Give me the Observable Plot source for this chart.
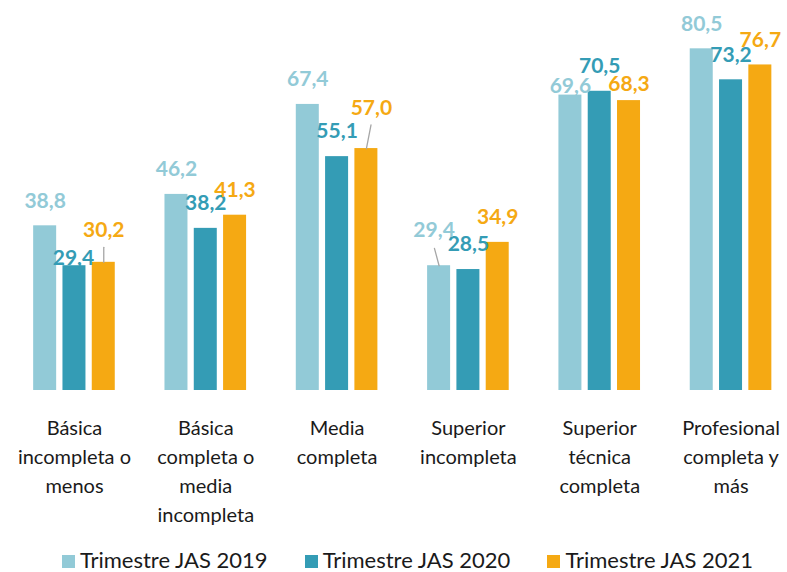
<!DOCTYPE html>
<html>
<head>
<meta charset="utf-8">
<script src="https://cdn.jsdelivr.net/npm/d3@7"></script>
<script src="https://cdn.jsdelivr.net/npm/@observablehq/plot@0.6"></script>
<style>
  html, body { margin: 0; padding: 0; background: #ffffff; }
  body { width: 787px; height: 572px; position: relative; overflow: hidden; font-family: Lato, "Open Sans", sans-serif; }
  #legend { position: absolute; left: 0; top: 549px; width: 787px; height: 22px; line-height: 22px; display: flex; justify-content: center; align-items: center; gap: 37px; padding-left: 28px; box-sizing: border-box; font-size: 22px; color: #1a1a1a; }
  #legend .item { display: flex; align-items: center; gap: 5px; white-space: nowrap; }
  #legend .sw { width: 13px; height: 13px; display: inline-block; margin-top: 2px; }
</style>
</head>
<body>
<div id="chart"></div>
<div id="legend"></div>
<script>
// ---- data ----
const categories = [
  "Básica\nincompleta o\nmenos",
  "Básica\ncompleta o\nmedia\nincompleta",
  "Media\ncompleta",
  "Superior\nincompleta",
  "Superior\ntécnica\ncompleta",
  "Profesional\ncompleta y\nmás"
];
const series = ["Trimestre JAS 2019", "Trimestre JAS 2020", "Trimestre JAS 2021"];
const values2019 = [38.8, 46.2, 67.4, 29.4, 69.6, 80.5];
const values2020 = [29.4, 38.2, 55.1, 28.5, 70.5, 73.2];
const values2021 = [30.2, 41.3, 57.0, 34.9, 68.3, 76.7];
const colors = ["#92CAD7", "#349CB5", "#F5A913"];

// ---- label nudges (pixels): [categoryIndex, seriesIndex, dx, dy] ----
const defaultLabelDy = -25;
const labelNudges = [
  [0, 1, -1, -7],
  [0, 2, 0, -32],
  [2, 2, 5, -40],
  [3, 0, -5, -35],
  [4, 0, 0, -9],
  [4, 2, 0, -16]
];
// leader lines: [categoryIndex, seriesIndex, length px, rotate deg]
const leaders = [
  [0, 2, 15, 0],
  [2, 2, 24, 11],
  [3, 0, 18, -15]
];

const seriesValues = [values2019, values2020, values2021];
const rows = [];
categories.forEach((c, ci) => series.forEach((s, si) => {
  rows.push({category: c, series: s, value: seriesValues[si][ci], ci, si});
}));
const fmt = v => v.toFixed(1).replace(".", ",");

const nudgeKey = (ci, si) => { const n = labelNudges.find(d => d[0] === ci && d[1] === si); return n ? [n[2], n[3]] : [0, defaultLabelDy]; };
const groups = d3.group(rows, d => nudgeKey(d.ci, d.si).join(","));
const labelMarks = [];
for (const [key, grp] of groups) {
  const [dx, dy] = key.split(",").map(Number);
  labelMarks.push(Plot.text(grp, {
    fx: "category", x: "series", y: "value", text: d => fmt(d.value), fill: "series",
    dx, dy, fontSize: 21, fontWeight: "bold"
  }));
}
const leaderMarks = leaders.map(([ci, si, len, rot]) => Plot.vector(rows.filter(d => d.ci === ci && d.si === si), {
  fx: "category", x: "series", y: "value", length: len, rotate: rot, anchor: "start",
  stroke: "#A6A6A6", strokeWidth: 1.3,
  shape: { draw(context, l) { context.moveTo(0, 0); context.lineTo(0, -l); } }
}));

const chart = Plot.plot({
  width: 787, height: 540,
  marginTop: 8, marginBottom: 150, marginLeft: 28, marginRight: 10.5,
  style: { fontFamily: "Lato, 'Open Sans', sans-serif", background: "#ffffff" },
  fx: { domain: categories, paddingInner: 0.3, paddingOuter: 0, round: false, label: null },
  x: { domain: series, paddingInner: 0.215, paddingOuter: 0.176, round: false, axis: null },
  y: { domain: [0, 90], axis: null },
  color: { domain: series, range: colors },
  marks: [
    Plot.barY(rows, { fx: "category", x: "series", y: "value", fill: "series" }),
    ...leaderMarks,
    ...labelMarks,
    Plot.axisFx({ anchor: "bottom", tickSize: 0, tickPadding: 24, fontSize: 20, lineHeight: 1.45, lineAnchor: "top", fill: "#1a1a1a", label: null })
  ]
});
document.getElementById("chart").appendChild(chart);

const legend = document.getElementById("legend");
series.forEach((s, i) => {
  const it = document.createElement("div");
  it.className = "item";
  const sw = document.createElement("span");
  sw.className = "sw"; sw.style.background = colors[i];
  const tx = document.createElement("span");
  tx.textContent = s;
  it.appendChild(sw); it.appendChild(tx);
  legend.appendChild(it);
});
</script>
</body>
</html>
